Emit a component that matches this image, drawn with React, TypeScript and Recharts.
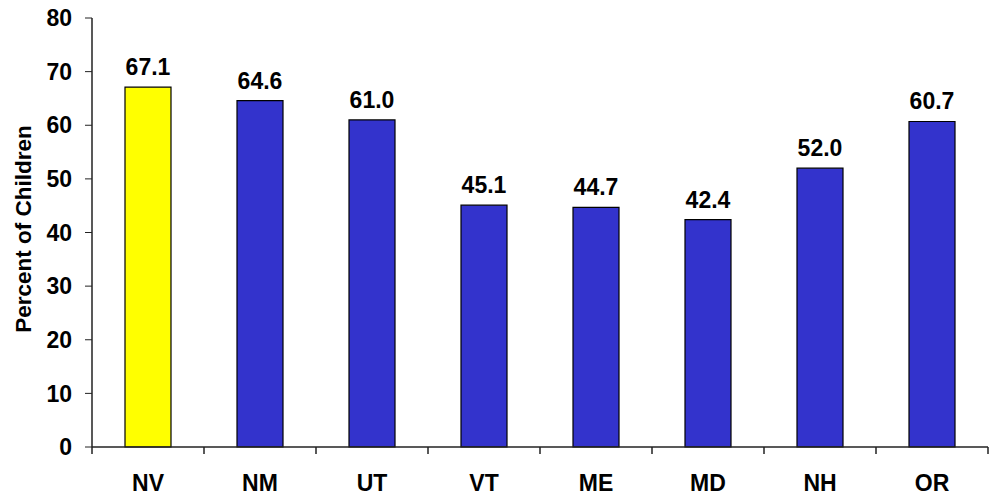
import { BarChart, Bar, XAxis, YAxis, Cell, LabelList } from 'recharts'

const states = ['NV', 'NM', 'UT', 'VT', 'ME', 'MD', 'NH', 'OR']
const percents = [67.1, 64.6, 61.0, 45.1, 44.7, 42.4, 52.0, 60.7]
const yTicks = [0, 10, 20, 30, 40, 50, 60, 70, 80]

const data = states.map((s, i) => ({ state: s, value: percents[i] }))

const W = 989
const H = 499
const yAxisWidth = 92
const rightMargin = 1
const band = (W - yAxisWidth - rightMargin) / states.length
const xTickMargin = 36

const font = 'Liberation Sans, Arial, sans-serif'

function YLabel() {
  return (
    <text
      x={0}
      y={0}
      transform="translate(31, 229) rotate(-90)"
      textAnchor="middle"
      fontFamily={font}
      fontWeight="bold"
      fontSize={22.5}
      fill="#000"
    >
      Percent of Children
    </text>
  )
}

// category label plus the small tick marks that sit between the categories
function XTick(props: any) {
  const { x, y, payload, index } = props
  const axisY = y - xTickMargin
  return (
    <g>
      {index === 0 && (
        <line x1={x - band / 2} x2={x - band / 2} y1={axisY} y2={axisY + 7} stroke="#222" strokeWidth={1.5} />
      )}
      <line x1={x + band / 2} x2={x + band / 2} y1={axisY} y2={axisY + 7} stroke="#222" strokeWidth={1.5} />
      <text
        x={x}
        y={axisY + 44}
        textAnchor="middle"
        fontFamily={font}
        fontWeight="bold"
        fontSize={23}
        fill="#000"
      >
        {payload.value}
      </text>
    </g>
  )
}

export default function App() {
  return (
    <div style={{ position: 'absolute', left: 0, top: 0, background: '#fff' }}>
      <BarChart
        width={W}
        height={H}
        data={data}
        margin={{ top: 18, right: rightMargin, bottom: 0, left: 0 }}
      >
        <XAxis
          dataKey="state"
          height={52}
          stroke="#222"
          axisLine={{ stroke: '#222', strokeWidth: 1.5 }}
          tickLine={false}
          tickSize={0}
          tickMargin={xTickMargin}
          interval={0}
          tick={<XTick />}
        />
        <YAxis
          width={yAxisWidth}
          domain={[0, 80]}
          ticks={yTicks}
          interval={0}
          tickSize={7}
          tickMargin={13}
          stroke="#222"
          axisLine={{ stroke: '#222', strokeWidth: 1.5 }}
          tick={{ fill: '#000', fontFamily: font, fontWeight: 'bold', fontSize: 23 }}
          label={<YLabel />}
        />
        <Bar
          dataKey="value"
          barSize={46}
          stroke="#000"
          strokeWidth={1.2}
          isAnimationActive={false}
        >
          {data.map((d, i) => (
            <Cell key={d.state} fill={i === 0 ? '#ffff00' : '#3333cc'} />
          ))}
          <LabelList
            dataKey="value"
            position="top"
            offset={12}
            formatter={(v: any) => Number(v).toFixed(1)}
            fill="#000"
            fontFamily={font}
            fontWeight="bold"
            fontSize={23}
          />
        </Bar>
      </BarChart>
    </div>
  )
}
